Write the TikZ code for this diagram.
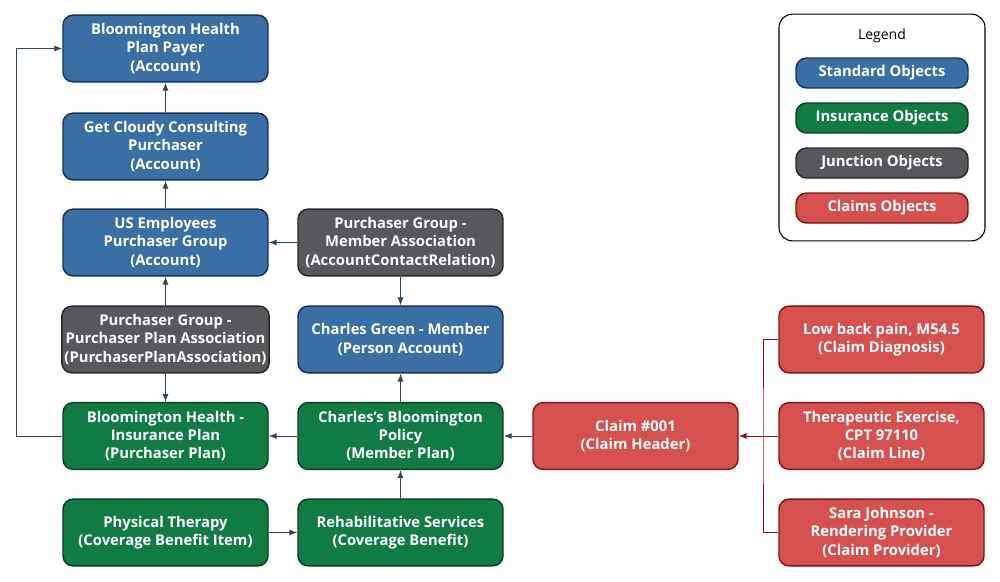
\documentclass[tikz,border=0pt]{standalone}
\usepackage{fontspec}
\setmainfont{Open Sans}
\usepackage{tikz}
\usetikzlibrary{arrows.meta}

\begin{document}
\begin{tikzpicture}[x=0.75pt,y=0.75pt,yscale=-1,xscale=1,
  box/.style={draw,line width=1.1pt,rounded corners=7.5pt,minimum width=153.75pt,minimum height=50pt,align=center,text=white,inner sep=2pt,font=\fontsize{11.1}{13.6}\selectfont\bfseries},
  std/.style={box,fill={rgb,255:red,58;green,111;blue,166},draw={rgb,255:red,22;green,50;blue,96}},
  ins/.style={box,fill={rgb,255:red,16;green,124;blue,68},draw={rgb,255:red,10;green,62;blue,36}},
  jun/.style={box,fill={rgb,255:red,89;green,87;blue,91},draw={rgb,255:red,40;green,40;blue,42}},
  clm/.style={box,fill={rgb,255:red,213;green,80;blue,78},draw={rgb,255:red,128;green,22;blue,22}},
  key/.style={minimum width=129pt,minimum height=22.5pt,rounded corners=8pt},
  link/.style={-{Latex[length=6pt,width=4.6pt]},line width=0.75pt,draw={rgb,255:red,52;green,70;blue,92}},
  redline/.style={line width=0.75pt,draw={rgb,255:red,140;green,20;blue,20}},
  redlink/.style={redline,-{Latex[length=6pt,width=4.6pt]}}]
\useasboundingbox (0,0) rectangle (1000,582);
\node[std] (payer) at (165.5,48.5) {Bloomington Health\\Plan Payer\\(Account)};
\node[std] (cloudy) at (165.5,146.5) {Get Cloudy Consulting\\Purchaser\\(Account)};
\node[std] (usemp) at (165.5,242.5) {US Employees\\Purchaser Group\\(Account)};
\node[jun] (ppa) at (165.5,339.5) {Purchaser Group -\\Purchaser Plan Association\\(PurchaserPlanAssociation)};
\node[ins] (insplan) at (165.5,436) {Bloomington Health -\\Insurance Plan\\(Purchaser Plan)};
\node[ins] (therapy) at (165.5,532.5) {Physical Therapy\\(Coverage Benefit Item)};
\node[jun] (acr) at (400.5,242.5) {Purchaser Group -\\Member Association\\(AccountContactRelation)};
\node[std] (member) at (400.5,339.5) {Charles Green - Member\\(Person Account)};
\node[ins] (policy) at (400.5,436) {Charles’s Bloomington\\Policy\\(Member Plan)};
\node[ins] (rehab) at (400.5,532.5) {Rehabilitative Services\\(Coverage Benefit)};
\node[clm] (claim) at (635.5,436) {Claim \#001\\(Claim Header)};
\node[clm] (diag) at (881.5,339.5) {Low back pain, M54.5\\(Claim Diagnosis)};
\node[clm] (cline) at (881.5,436) {Therapeutic Exercise,\\CPT 97110\\(Claim Line)};
\node[clm] (prov) at (881.5,532.5) {Sara Johnson -\\Rendering Provider\\(Claim Provider)};
\coordinate (rail) at (16,436);
\coordinate (trunk) at (763,436);
\draw[link] (cloudy) -- (payer);
\draw[link] (usemp) -- (cloudy);
\draw[link] (ppa) -- (usemp);
\draw[link] (ppa) -- (insplan);
\draw[link] (acr) -- (usemp);
\draw[link] (acr) -- (member);
\draw[link] (policy) -- (member);
\draw[link] (policy) -- (insplan);
\draw[link] (rehab) -- (policy);
\draw[link] (therapy) -- (rehab);
\draw[link] (claim) -- (policy);
\draw[link] (insplan.west) -- (rail) |- (payer.west);
\draw[redlink] (cline) -- (claim);
\draw[redline] (diag.west) -| (trunk) |- (prov.west);
\node[draw,line width=0.8pt,rounded corners=10pt,minimum width=154.5pt,minimum height=170pt] (legend) at (882,127.5) {};
\node[font=\fontsize{10.5}{12}\selectfont] (legtitle) at (882,36) {Legend};
\node[std,key] (kstd) at (882,73) {Standard Objects};
\node[ins,key] (kins) at (882,118) {Insurance Objects};
\node[jun,key] (kjun) at (882,163) {Junction Objects};
\node[clm,key] (kclm) at (882,208) {Claims Objects};
\end{tikzpicture}
\end{document}
